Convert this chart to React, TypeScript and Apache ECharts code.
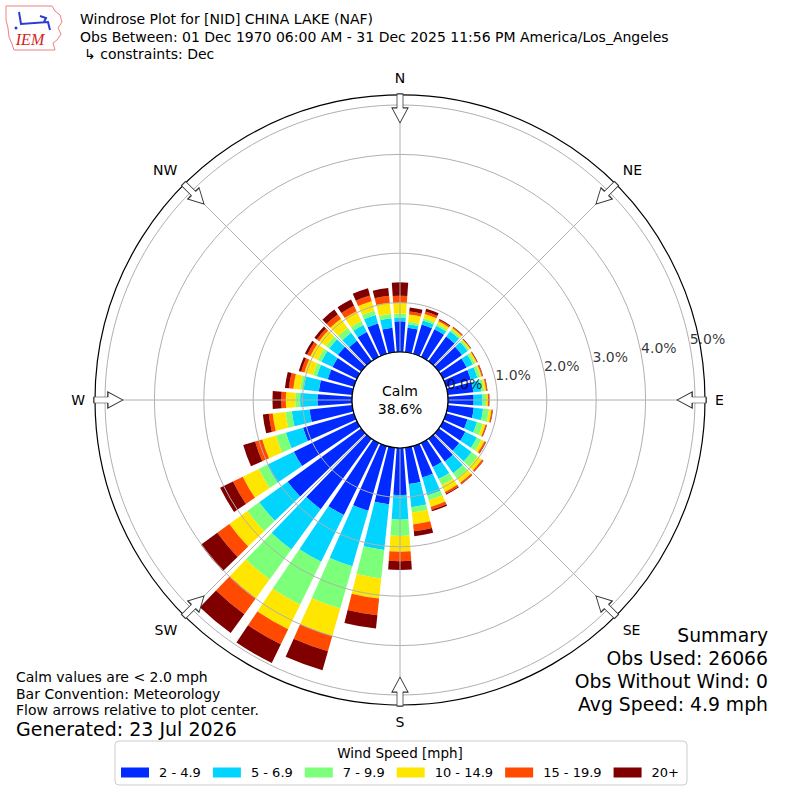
import React, { useEffect, useRef } from "react";
import * as echarts from "echarts";

const FONT = "DejaVu Sans";

const directions = [0, 10, 20, 30, 40, 50, 60, 70, 80, 90, 100, 110, 120, 130, 140, 150, 160, 170, 180, 190, 200, 210, 220, 230, 240, 250, 260, 270, 280, 290, 300, 310, 320, 330, 340, 350];
const compassLabels = ["N", "NE", "E", "SE", "S", "SW", "W", "NW"];
const compassAngles = [0, 45, 90, 135, 180, 225, 270, 315];
const speedBins = ["2 - 4.9", "5 - 6.9", "7 - 9.9", "10 - 14.9", "15 - 19.9", "20+"];
const binColors = ["#002aff", "#00d4ff", "#7cff79", "#ffe600", "#ff4a00", "#800000"];

// frequency (%) per direction for each speed bin
const speed2to5 = [0.62, 0.50, 0.62, 0.62, 0.62, 0.58, 0.53, 0.52, 0.52, 0.52, 0.53, 0.45, 0.50, 0.51, 0.57, 0.54, 0.66, 0.74, 0.95, 1.15, 1.36, 1.62, 1.76, 1.84, 1.42, 1.07, 0.87, 0.70, 0.68, 0.55, 0.55, 0.58, 0.51, 0.56, 0.64, 0.50];
const speed5to7 = [0.08, 0.07, 0.08, 0.08, 0.13, 0.14, 0.14, 0.14, 0.16, 0.18, 0.19, 0.20, 0.26, 0.31, 0.29, 0.27, 0.38, 0.47, 0.50, 0.93, 1.17, 1.05, 1.01, 0.71, 0.60, 0.36, 0.36, 0.35, 0.31, 0.23, 0.25, 0.22, 0.20, 0.16, 0.18, 0.19];
const speed7to10 = [0.08, 0.05, 0.05, 0.04, 0.04, 0.04, 0.05, 0.06, 0.06, 0.07, 0.12, 0.12, 0.10, 0.15, 0.13, 0.14, 0.10, 0.11, 0.33, 0.58, 0.89, 0.97, 0.75, 0.30, 0.19, 0.21, 0.13, 0.10, 0.07, 0.08, 0.08, 0.08, 0.12, 0.09, 0.09, 0.09];
const speed10to15 = [0.21, 0.15, 0.09, 0.06, 0.04, 0.03, 0.04, 0.03, 0.04, 0.04, 0.05, 0.06, 0.07, 0.11, 0.11, 0.15, 0.14, 0.24, 0.32, 0.41, 0.58, 0.55, 0.47, 0.45, 0.36, 0.29, 0.26, 0.19, 0.14, 0.18, 0.17, 0.17, 0.23, 0.22, 0.20, 0.23];
const speed15to20 = [0.15, 0.06, 0.05, 0.03, 0.02, 0.01, 0.01, 0.02, 0.02, 0.02, 0.02, 0.02, 0.03, 0.03, 0.03, 0.04, 0.06, 0.14, 0.19, 0.34, 0.32, 0.34, 0.40, 0.30, 0.22, 0.15, 0.08, 0.09, 0.09, 0.07, 0.07, 0.06, 0.11, 0.12, 0.12, 0.14];
const speed20plus = [0.27, 0.08, 0.06, 0.02, 0.01, 0.01, 0.01, 0.01, 0.01, 0.01, 0.01, 0.01, 0.01, 0.01, 0.01, 0.02, 0.03, 0.10, 0.18, 0.27, 0.40, 0.42, 0.47, 0.41, 0.29, 0.25, 0.12, 0.18, 0.08, 0.05, 0.05, 0.06, 0.12, 0.14, 0.15, 0.16];

const radialTicks = [0, 1, 2, 3, 4, 5];
const calmPercent = 38.6;

const titleLines = [
  "Windrose Plot for [NID] CHINA LAKE (NAF)",
  "Obs Between: 01 Dec 1970 06:00 AM - 31 Dec 2025 11:56 PM America/Los_Angeles",
  "\u21b3 constraints: Dec",
];
const noteLines = [
  "Calm values are < 2.0 mph",
  "Bar Convention: Meteorology",
  "Flow arrows relative to plot center.",
];
const generatedText = "Generated: 23 Jul 2026";
const summaryLines = ["Summary", "Obs Used: 26066", "Obs Without Wind: 0", "Avg Speed: 4.9 mph"];
const legendTitle = "Wind Speed [mph]";

const ARROW = "path://M-3,0 L3,0 L3,14 L8,14 L0,29 L-8,14 L-3,14 Z";

export default function App() {
  const ref = useRef<HTMLDivElement>(null);

  useEffect(() => {
    const chart = echarts.init(ref.current as HTMLDivElement, null, { renderer: "svg" });
    const speedData = [speed2to5, speed5to7, speed7to10, speed10to15, speed15to20, speed20plus];

    const iowa = [
      [6, 6], [52, 6], [55, 11], [60, 15], [62, 22], [58, 28], [61, 34], [57, 40], [53, 43], [55, 50],
      [14, 50], [12, 44], [9, 37], [8, 28], [6, 20],
    ];

    const option: any = {
      animation: false,
      backgroundColor: "#ffffff",
      textStyle: { fontFamily: FONT },
      polar: [
        { center: [400, 400], radius: [48, 295] },
        { center: [400, 400], radius: [48, 305] },
      ],
      angleAxis: [
        {
          polarIndex: 0,
          type: "category",
          data: directions.map(String),
          startAngle: 95,
          clockwise: true,
          axisLine: { show: false },
          axisTick: { show: false },
          axisLabel: { show: false },
          splitLine: { show: false },
          splitArea: { show: false },
        },
        {
          polarIndex: 1,
          type: "value",
          min: 0,
          max: 360,
          interval: 45,
          startAngle: 90,
          clockwise: true,
          z: 3,
          axisLine: { show: true, lineStyle: { color: "#000000", width: 1.2 } },
          axisTick: { show: false },
          axisLabel: {
            show: true,
            margin: 10,
            color: "#000000",
            fontSize: 14,
            fontFamily: FONT,
            formatter: (v: number) => {
              const i = compassAngles.indexOf(v);
              return i >= 0 ? compassLabels[i] : "";
            },
          },
          splitLine: { show: true, lineStyle: { color: "#b0b0b0", width: 1 } },
        },
      ],
      radiusAxis: [
        {
          polarIndex: 0,
          type: "value",
          min: 0,
          max: 5,
          interval: 1,
          z: 3,
          axisLine: { show: false },
          axisTick: { show: false },
          axisLabel: { show: false },
          splitLine: { show: true, lineStyle: { color: "#b0b0b0", width: 1 } },
        },
        { polarIndex: 1, type: "value", min: 0, max: 5.2, show: false },
      ],
      legend: {
        data: speedBins,
        left: "center",
        top: 741,
        orient: "horizontal",
        icon: "rect",
        itemWidth: 28,
        itemHeight: 10,
        itemGap: 12,
        padding: [25, 8, 6, 6],
        borderColor: "#cccccc",
        borderWidth: 1,
        borderRadius: 4,
        backgroundColor: "#ffffff",
        selectedMode: false,
        textStyle: { fontSize: 13, fontFamily: FONT, color: "#000000", padding: [0, 0, 0, 5] },
      },
      series: [
        ...speedBins.map((name, i) => ({
          type: "bar",
          name,
          coordinateSystem: "polar",
          polarIndex: 0,
          stack: "wind",
          data: speedData[i],
          barCategoryGap: "20%",
          itemStyle: { color: binColors[i] },
          silent: true,
          z: 2,
        })),
        {
          type: "pie",
          center: [400, 400],
          radius: [0, 48],
          z: 5,
          silent: true,
          legendHoverLink: false,
          label: {
            show: true,
            position: "center",
            formatter: "Calm\n" + calmPercent.toFixed(1) + "%",
            fontSize: 14,
            lineHeight: 18,
            color: "#000000",
            fontFamily: FONT,
          },
          labelLine: { show: false },
          itemStyle: { color: "#ffffff", borderColor: "#000000", borderWidth: 1.2 },
          emphasis: { disabled: true },
          data: [{ name: "Calm", value: calmPercent }],
        },
        {
          type: "scatter",
          coordinateSystem: "polar",
          polarIndex: 1,
          symbol: ARROW,
          symbolSize: [16, 29],
          symbolRotate: (val: number[]) => -val[1],
          data: compassAngles.map((a) => [4.93, a]),
          itemStyle: { color: "#ffffff", borderColor: "#333333", borderWidth: 1, opacity: 1 },
          silent: true,
          z: 6,
        },
        {
          type: "scatter",
          coordinateSystem: "polar",
          polarIndex: 1,
          symbol: "circle",
          symbolSize: 1,
          itemStyle: { color: "rgba(0,0,0,0)" },
          data: radialTicks.map((r) => [r, 79.5]),
          silent: true,
          z: 7,
          label: {
            show: true,
            position: [0, 0],
            align: "left",
            verticalAlign: "bottom",
            fontSize: 14,
            fontFamily: FONT,
            color: "#000000",
            formatter: (p: any) => p.value[0].toFixed(1) + "%",
          },
        },
      ],
      graphic: [
        {
          type: "polygon",
          z: 100,
          shape: { points: iowa },
          style: { fill: "#ffffff", stroke: "#f08080", lineWidth: 1 },
        },
        {
          type: "polyline",
          z: 101,
          shape: { points: [[19, 12], [21, 24], [48, 22], [50, 30]] },
          style: { stroke: "#2a3bd6", lineWidth: 2, fill: null },
        },
        {
          type: "polyline",
          z: 101,
          shape: { points: [[40, 16], [46, 18], [44, 22]] },
          style: { stroke: "#2a3bd6", lineWidth: 2, fill: null },
        },
        {
          type: "circle",
          z: 101,
          shape: { cx: 16, cy: 28, r: 1.5 },
          style: { fill: "#2a3bd6" },
        },
        {
          type: "text",
          z: 101,
          x: 30,
          y: 39,
          style: {
            text: "IEM",
            fontSize: 16,
            fontStyle: "italic",
            fontFamily: "Liberation Serif",
            fill: "#d62020",
            align: "center",
            verticalAlign: "middle",
          },
        },
        ...titleLines.map((t, i) => ({
          type: "text",
          z: 100,
          x: i === 2 ? 84 : 80,
          y: 19 + i * 17.5,
          style: { text: t, fontSize: 14, fontFamily: FONT, fill: "#000000", align: "left", verticalAlign: "middle" },
        })),
        ...noteLines.map((t, i) => ({
          type: "text",
          z: 100,
          x: 16,
          y: 677 + i * 16.5,
          style: { text: t, fontSize: 14, fontFamily: FONT, fill: "#000000", align: "left", verticalAlign: "middle" },
        })),
        {
          type: "text",
          z: 100,
          x: 16,
          y: 729,
          style: { text: generatedText, fontSize: 19, fontFamily: FONT, fill: "#000000", align: "left", verticalAlign: "middle" },
        },
        ...summaryLines.map((t, i) => ({
          type: "text",
          z: 100,
          x: 768,
          y: 635 + i * 23.3,
          style: { text: t, fontSize: 18.8, fontFamily: FONT, fill: "#000000", align: "right", verticalAlign: "middle" },
        })),
        {
          type: "text",
          z: 100,
          x: 400,
          y: 753,
          style: { text: legendTitle, fontSize: 13.5, fontFamily: FONT, fill: "#000000", align: "center", verticalAlign: "middle" },
        },
      ],
    };

    chart.setOption(option);
    return () => chart.dispose();
  }, []);

  return (
    <div
      ref={ref}
      style={{ position: "fixed", left: 0, top: 0, width: 800, height: 800, background: "#ffffff" }}
    />
  );
}
